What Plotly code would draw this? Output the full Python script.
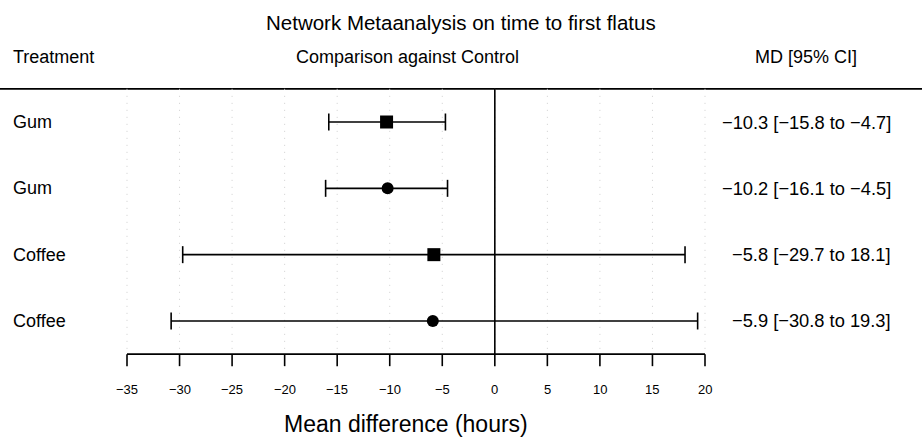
import plotly.graph_objects as go

# Forest plot data: treatment comparisons against Control
treatments = ["Gum", "Gum", "Coffee", "Coffee"]
md = [-10.3, -10.2, -5.8, -5.9]
ci_low = [-15.8, -16.1, -29.7, -30.8]
ci_high = [-4.7, -4.5, 18.1, 19.3]
symbols = ["square", "circle", "square", "circle"]
tick_vals = [-35, -30, -25, -20, -15, -10, -5, 0, 5, 10, 15, 20]

W, H = 922, 440
FONT = "Liberation Sans, Arial, Helvetica, sans-serif"

# pixel <-> data mapping so the scale spans -35..20 between x=127 and x=705
x0_px, x1_px = 127, 705
upp = (tick_vals[-1] - tick_vals[0]) / (x1_px - x0_px)
x_range = [tick_vals[0] - x0_px * upp, tick_vals[-1] + (W - x1_px) * upp]

# rows 1..4 sit at 122 px with 66.33 px spacing
row_px0, row_step = 122, 66.33
rows = list(range(1, len(treatments) + 1))
y_range = [1 + (H - row_px0) / row_step, 1 - row_px0 / row_step]
top_line_y = 0.5
axis_y = len(rows) + 0.5


def minus(v, fmt="{:.1f}"):
    return fmt.format(v).replace("-", "\u2212")


fig = go.Figure()

shapes = []
# dotted vertical gridlines
for t in tick_vals:
    shapes.append(dict(type="line", xref="x", yref="y", x0=t, x1=t,
                       y0=top_line_y, y1=axis_y,
                       line=dict(color="#cfcfcf", width=1, dash="1px,6px"), layer="below"))
# top separator line across the full width
shapes.append(dict(type="line", xref="paper", yref="y", x0=0, x1=1,
                   y0=top_line_y, y1=top_line_y, line=dict(color="black", width=1.6),
                   layer="below"))
# null-effect line
shapes.append(dict(type="line", xref="x", yref="y", x0=0, x1=0,
                   y0=top_line_y, y1=axis_y, line=dict(color="black", width=1.6),
                   layer="below"))
# bottom axis with downward ticks
shapes.append(dict(type="line", xref="x", yref="y", x0=tick_vals[0], x1=tick_vals[-1],
                   y0=axis_y, y1=axis_y, line=dict(color="black", width=1.6),
                   layer="below"))
tick_len = 12 / row_step
for t in tick_vals:
    shapes.append(dict(type="line", xref="x", yref="y", x0=t, x1=t,
                       y0=axis_y, y1=axis_y + tick_len,
                       line=dict(color="black", width=1.6), layer="below"))

# confidence intervals with end caps
cap = 8.5 / row_step
for r, lo, hi in zip(rows, ci_low, ci_high):
    shapes.append(dict(type="line", xref="x", yref="y", x0=lo, x1=hi, y0=r, y1=r,
                       line=dict(color="black", width=1.6), layer="below"))
    for xv in (lo, hi):
        shapes.append(dict(type="line", xref="x", yref="y", x0=xv, x1=xv,
                           y0=r - cap, y1=r + cap,
                           line=dict(color="black", width=1.6), layer="below"))

fig.add_trace(go.Scatter(
    x=md, y=rows, mode="markers",
    marker=dict(symbol=symbols, size=[13, 12, 13, 12], color="black",
                opacity=1, line=dict(width=0, color="black")),
    hoverinfo="skip", showlegend=False,
))

annotations = []


def px_y(py):
    return 1 - py / H


def txt(text, x, py, size, anchor="center", xref="paper"):
    annotations.append(dict(text=text, x=x, y=px_y(py), xref=xref, yref="paper",
                            xanchor=anchor, yanchor="middle", showarrow=False,
                            font=dict(family=FONT, size=size, color="black")))


txt("Network Metaanalysis on time to first flatus", 461 / W, 22, 20.5)
txt("Treatment", 11 / W, 57, 18, "left")
txt("Comparison against Control", 407 / W, 57, 18)
txt("MD [95% CI]", 806 / W, 57, 18)

for r, name, m, lo, hi in zip(rows, treatments, md, ci_low, ci_high):
    py = row_px0 + (r - 1) * row_step
    txt(name, 11 / W, py, 18, "left")
    txt(f"{minus(m)} [{minus(lo)} to {minus(hi)}]", 893 / W, py, 18.3, "right")

for t in tick_vals:
    txt(minus(t, "{:d}"), t, 389, 13, "center", xref="x")

txt("Mean difference (hours)", 406 / W, 424, 23)

fig.update_layout(
    width=W, height=H,
    margin=dict(l=0, r=0, t=0, b=0),
    paper_bgcolor="white", plot_bgcolor="white",
    xaxis=dict(range=x_range, visible=False, fixedrange=True),
    yaxis=dict(range=y_range, visible=False, fixedrange=True),
    shapes=shapes, annotations=annotations,
    showlegend=False,
)

fig.write_html("out.html")
